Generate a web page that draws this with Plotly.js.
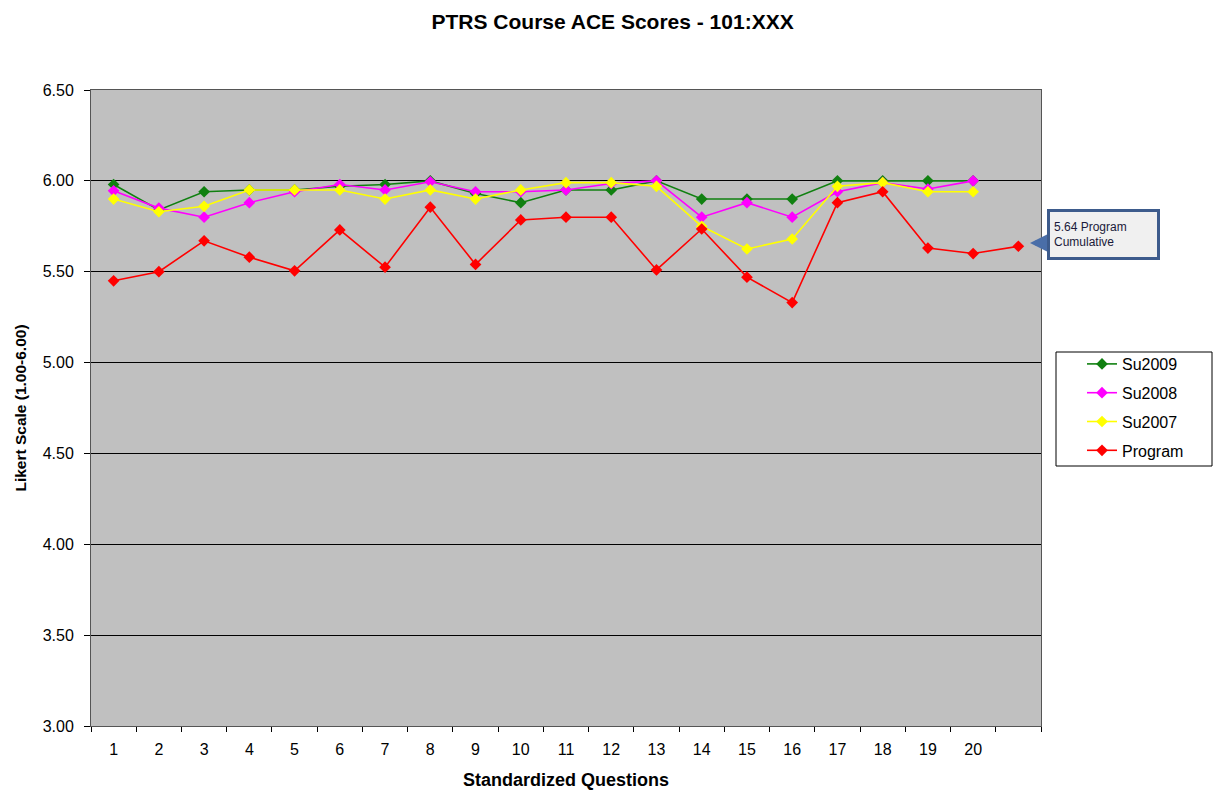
<!DOCTYPE html>
<html>
<head>
<meta charset="utf-8">
<script src="https://cdn.plot.ly/plotly-3.0.1.min.js"></script>
<style>html,body{margin:0;padding:0;background:#fff;}#chart{width:1213px;height:790px;}</style>
</head>
<body>
<div id="chart"></div>
<script>
// Categories: questions 1-20 plus an unlabelled 21st slot for the cumulative point
const questions = ['1','2','3','4','5','6','7','8','9','10','11','12','13','14','15','16','17','18','19','20',' '];
const tickLabels = ['1','2','3','4','5','6','7','8','9','10','11','12','13','14','15','16','17','18','19','20',''];

const su2009  = [5.98,5.84,5.94,5.95,5.95,5.97,5.98,6.00,5.93,5.88,5.95,5.95,6.00,5.90,5.90,5.90,6.00,6.00,6.00,6.00];
const su2008  = [5.945,5.85,5.80,5.88,5.94,5.98,5.95,5.995,5.94,5.94,5.95,5.985,6.00,5.80,5.88,5.80,5.94,5.99,5.955,6.00];
const su2007  = [5.90,5.83,5.86,5.95,5.95,5.95,5.90,5.95,5.90,5.95,5.99,5.99,5.97,5.75,5.625,5.68,5.97,5.99,5.94,5.94];
const program = [5.45,5.50,5.67,5.58,5.505,5.73,5.525,5.855,5.54,5.785,5.80,5.80,5.51,5.735,5.47,5.33,5.88,5.94,5.63,5.60,5.64];

const cumulativeValue = 5.64;

const seriesNames = ['Su2009','Su2008','Su2007','Program'];
const seriesData = [su2009, su2008, su2007, program];
const seriesColors = ['#108010','#ff00ff','#ffff00','#ff0000'];

const traces = seriesData.map((vals, i) => ({
  type: 'scatter',
  mode: 'lines+markers',
  name: seriesNames[i],
  x: questions.slice(0, vals.length),
  y: vals,
  line: {color: seriesColors[i], width: 1.6},
  marker: {symbol: 'diamond', size: 9, color: seriesColors[i]},
  legendgroup: 'g' + i
}));

// plot area in pixels: x 91..1041, y 90..726
const PW = 950, PH = 636;
const px = v => (v - 91) / PW;
const py = v => (726 - v) / PH;

const layout = {
  width: 1213,
  height: 790,
  paper_bgcolor: '#ffffff',
  plot_bgcolor: '#c0c0c0',
  font: {family: 'Liberation Sans, Arial, sans-serif', size: 16, color: '#000'},
  margin: {l: 91, r: 172, t: 90, b: 64},
  title: {
    text: '<b>PTRS Course ACE Scores - 101:XXX</b>',
    font: {size: 21, color: '#000'},
    x: 0.505, xanchor: 'center', y: 0.972, yanchor: 'middle'
  },
  xaxis: {
    type: 'category',
    categoryorder: 'array',
    categoryarray: questions,
    tickmode: 'array',
    tickvals: questions,
    ticktext: tickLabels,
    tickson: 'boundaries',
    ticks: 'outside',
    ticklen: 5,
    tickcolor: '#000',
    ticklabelstandoff: 9,
    showline: true,
    linecolor: '#555',
    linewidth: 1,
    mirror: true,
    showgrid: false,
    range: [-0.5, 20.5],
    title: {text: '<b>Standardized Questions</b>', font: {size: 18}, standoff: 16},
    tickfont: {size: 16}
  },
  yaxis: {
    range: [3, 6.5],
    dtick: 0.5,
    tick0: 3,
    tickformat: '.2f',
    ticks: 'outside',
    ticklen: 6,
    tickcolor: '#000',
    ticklabelstandoff: 7,
    showline: true,
    linecolor: '#555',
    linewidth: 1,
    mirror: true,
    showgrid: true,
    gridcolor: '#000',
    gridwidth: 1,
    zeroline: false,
    title: {text: '<b>Likert Scale (1.00-6.00)</b>', font: {size: 15.5}, standoff: 12},
    tickfont: {size: 16}
  },
  legend: {
    x: px(1082), xanchor: 'left',
    y: py(347), yanchor: 'top',
    bgcolor: 'rgba(0,0,0,0)',
    borderwidth: 0,
    font: {size: 16},
    tracegroupgap: 5,
    traceorder: 'grouped'
  },
  shapes: [{
    type: 'rect', xref: 'paper', yref: 'paper',
    x0: px(1056), x1: px(1212), y0: py(466), y1: py(352),
    fillcolor: '#ffffff', line: {color: '#000', width: 1}, layer: 'above'
  }],
  annotations: [{
    xref: 'paper', yref: 'paper',
    x: px(1030), y: py(243),
    ax: 17, ay: 0,
    text: '',
    showarrow: true,
    arrowhead: 2,
    arrowsize: 0.8,
    arrowwidth: 5,
    arrowcolor: '#4a6ea8'
  }, {
    xref: 'paper', yref: 'paper',
    x: px(1103.5), y: py(234.5),
    xanchor: 'center', yanchor: 'middle',
    text: cumulativeValue.toFixed(2) + ' Program<br>Cumulative',
    showarrow: false,
    align: 'left',
    font: {size: 12, color: '#1a1a3a', family: 'Liberation Sans, Arial, sans-serif'},
    bgcolor: '#f0f0f0',
    bordercolor: '#3d5b8c',
    borderwidth: 3,
    borderpad: 4,
    width: 99,
    height: 37
  }]
};

Plotly.newPlot('chart', traces, layout, {displayModeBar: false, staticPlot: true});
</script>
</body>
</html>
